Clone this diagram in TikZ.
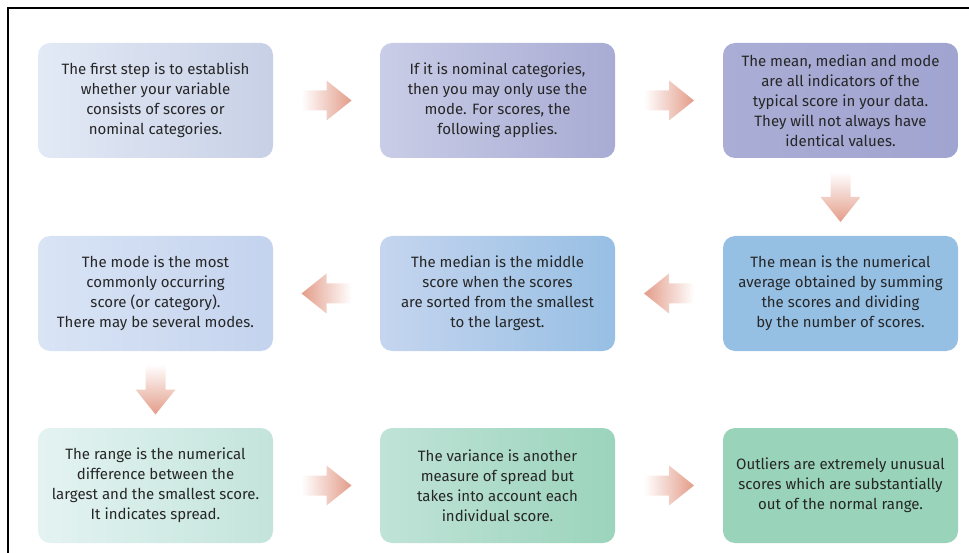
\documentclass[tikz,border=0pt]{standalone}
\usepackage{fontspec}
\setmainfont{Fira Sans}
\usepackage{tikz}
\usetikzlibrary{calc}

\definecolor{arrowred}{HTML}{E39C89}
\definecolor{textgray}{HTML}{262626}
\definecolor{firstL}{HTML}{E2EAF6}
\definecolor{firstR}{HTML}{C8D0E6}
\definecolor{nominalL}{HTML}{C9CDE7}
\definecolor{nominalR}{HTML}{A8ABD3}
\definecolor{averageL}{HTML}{AAADD5}
\definecolor{averageR}{HTML}{A0A4D0}
\definecolor{meanC}{HTML}{96BFE4}
\definecolor{medianL}{HTML}{C5D5EF}
\definecolor{medianR}{HTML}{97BFE4}
\definecolor{modeL}{HTML}{D9E4F5}
\definecolor{modeR}{HTML}{C4D3EE}
\definecolor{rangeL}{HTML}{E4F3F2}
\definecolor{rangeR}{HTML}{C3E4DB}
\definecolor{varianceL}{HTML}{C0E3D8}
\definecolor{varianceR}{HTML}{9BD4BC}
\definecolor{outliersC}{HTML}{99D3B9}

\begin{document}
\begin{tikzpicture}[x=1pt, y=-1pt,
    step box/.style={rounded corners=12pt, minimum width=235pt, minimum height=115pt,
        align=center, text=textgray, font=\fontsize{15}{20}\selectfont},
    arrow fill/.style={draw=none}
    ]
    \useasboundingbox (0,0) rectangle (969,553);
    % frame
    \draw[line width=1.6pt] (969,8) -- (8,8) -- (8,553);

    % Row 1
    \node[step box, left color=firstL, right color=firstR] (first) at (155.5,100.5)
        {The first step is to establish\\whether your variable\\consists of scores or\\nominal categories.};
    \node[step box, left color=nominalL, right color=nominalR] (nominal) at (497.5,100.5)
        {If it is nominal categories,\\then you may only use the\\mode. For scores, the\\following applies.};
    \node[step box, left color=averageL, right color=averageR] (average) at (840.5,100.5)
        {The mean, median and mode\\are all indicators of the\\typical score in your data.\\They will not always have\\identical values.};

    % Row 2
    \node[step box, fill=meanC] (mean) at (840.5,293.5)
        {The mean is the numerical\\average obtained by summing\\the scores and dividing\\by the number of scores.};
    \node[step box, left color=medianL, right color=medianR] (median) at (497.5,293.5)
        {The median is the middle\\score when the scores\\are sorted from the smallest\\to the largest.};
    \node[step box, left color=modeL, right color=modeR] (mode) at (155.5,293.5)
        {The mode is the most\\commonly occurring\\score (or category).\\There may be several modes.};

    % Row 3
    \node[step box, left color=rangeL, right color=rangeR] (range) at (155.5,485.5)
        {The range is the numerical\\difference between the\\largest and the smallest score.\\It indicates spread.};
    \node[step box, left color=varianceL, right color=varianceR] (variance) at (497.5,485.5)
        {The variance is another\\measure of spread but\\takes into account each\\individual score.};
    \node[step box, fill=outliersC] (outliers) at (840.5,485.5)
        {Outliers are extremely unusual\\scores which are substantially\\out of the normal range.};

    % Arrows to the right
    \foreach \a/\b in {first/nominal, nominal/average, range/variance, variance/outliers} {
        \shade[arrow fill, left color=white, right color=arrowred]
            ($(\a.east)!0.5!(\b.west)+(-25,-10)$) -- ++(25,0) -- ++(0,-10) -- ++(25,20)
            -- ++(-25,20) -- ++(0,-10) -- ++(-25,0) -- cycle;
    }
    % Arrows to the left
    \foreach \a/\b in {mean/median, median/mode} {
        \shade[arrow fill, right color=white, left color=arrowred]
            ($(\a.west)!0.5!(\b.east)+(25,-10)$) -- ++(-25,0) -- ++(0,-10) -- ++(-25,20)
            -- ++(25,20) -- ++(0,-10) -- ++(25,0) -- cycle;
    }
    % Arrows down
    \foreach \a/\b in {average/mean, mode/range} {
        \shade[arrow fill, top color=white, bottom color=arrowred]
            ($(\a.south)!0.5!(\b.north)+(-10,-25)$) -- ++(0,25) -- ++(-10,0) -- ++(20,25)
            -- ++(20,-25) -- ++(-10,0) -- ++(0,-25) -- cycle;
    }
\end{tikzpicture}
\end{document}
